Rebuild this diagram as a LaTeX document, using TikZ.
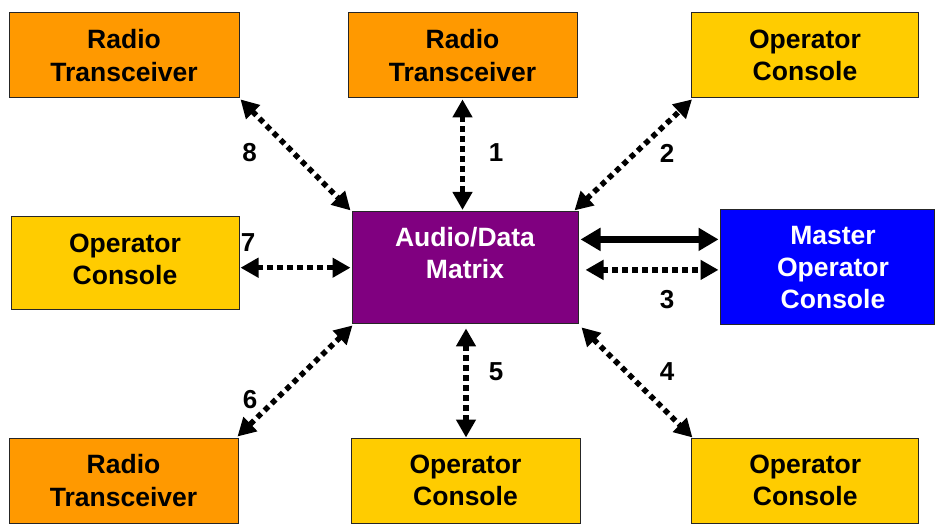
\documentclass[tikz,border=0pt]{standalone}
\usepackage{fontspec}
\setmainfont{Liberation Sans}
\usetikzlibrary{arrows.meta}
\definecolor{radioorange}{HTML}{FF9900}
\definecolor{consoleyellow}{HTML}{FFCC00}
\definecolor{matrixpurple}{HTML}{800080}
\definecolor{masterblue}{HTML}{0000FF}
\tikzset{
  box/.style={draw=black!85, line width=1pt, inner sep=0pt, align=center,
    font=\fontsize{26.5}{32.5}\selectfont\bfseries},
  radiobox/.style={box, fill=radioorange},
  consolebox/.style={box, fill=consoleyellow},
  boxtext/.style={inner sep=0pt, align=center, font=\fontsize{26.5}{32}\selectfont\bfseries},
  numlabel/.style={inner sep=0pt, font=\fontsize{26}{30}\selectfont\bfseries},
  dotlink/.style={line width=5.5pt, dash pattern=on 5.5pt off 4.5pt,
    {Triangle[length=18pt,width=19pt]}-{Triangle[length=18pt,width=19pt]}},
  solidlink/.style={line width=7.5pt,
    {Triangle[length=20pt,width=22pt]}-{Triangle[length=20pt,width=22pt]}},
}
\begin{document}
\begin{tikzpicture}[x=1pt,y=-1pt]
\useasboundingbox (0,0) rectangle (936,525);
% boxes
\node[radiobox, minimum width=230pt, minimum height=85pt] (rt1) at (124,55.4) {Radio\\Transceiver};
\node[radiobox, minimum width=229pt, minimum height=85pt] (rt2) at (462.5,55.4) {Radio\\Transceiver};
\node[consolebox, minimum width=227pt, minimum height=85pt] (oc1) at (805,55.4) {Operator\\Console};
\node[consolebox, minimum width=228pt, minimum height=93pt] (lc) at (125,262.7) {};
\node[boxtext] (lct) at (125,259) {Operator\\Console};
\node[box, fill=matrixpurple, minimum width=226pt, minimum height=112pt] (mat) at (465,267.9) {};
\node[boxtext, text=white] (matt) at (465,253.5) {Audio/Data\\Matrix};
\node[box, fill=masterblue, minimum width=214pt, minimum height=114.5pt] (mas) at (827,266.8) {};
\node[boxtext, text=white] (mast) at (833,267.5) {Master\\Operator\\Console};
\node[radiobox, minimum width=229pt, minimum height=85pt] (rb) at (123.5,480.5) {Radio\\Transceiver};
\node[consolebox, minimum width=229pt, minimum height=85pt] (bc) at (465.5,480.5) {Operator\\Console};
\node[consolebox, minimum width=226.5pt, minimum height=85pt] (br) at (805.2,480.5) {Operator\\Console};
% connectors
\draw[dotlink] ([shift={(0pt,-1pt)}]rt2.south) -- ([shift={(0pt,1.5pt)}]rt2.south |- mat.north);
\draw[dotlink] ([shift={(1pt,-1pt)}]rt1.south east) -- ([shift={(-1pt,1pt)}]mat.north west);
\draw[dotlink] ([shift={(-4pt,1pt)}]mat.north east) -- ([shift={(1pt,-1pt)}]oc1.south west);
\draw[dotlink] ([shift={(1pt,-5pt)}]lc.east) -- ([shift={(-1pt,-5pt)}]lc.east -| mat.west);
\draw[solidlink] ([shift={(2pt,28.5pt)}]mat.east) -- ([shift={(-1pt,28.5pt)}]mat.east -| mas.west);
\draw[dotlink] ([shift={(7pt,-2pt)}]mat.east) -- ([shift={(-1pt,-2pt)}]mat.east -| mas.west);
\draw[dotlink] ([shift={(3pt,-3pt)}]mat.south east) -- ([shift={(1pt,0pt)}]br.north west);
\draw[dotlink] ([shift={(1pt,-4pt)}]mat.south) -- ([shift={(1pt,0pt)}]mat.south |- bc.north);
\draw[dotlink] ([shift={(1pt,-1pt)}]mat.south west) -- ([shift={(-1pt,1pt)}]rb.north east);
% labels
\node[numlabel] (l1) at (496,153) {1};
\node[numlabel] (l2) at (667,153) {2};
\node[numlabel] (l3) at (667,300) {3};
\node[numlabel] (l4) at (667,372) {4};
\node[numlabel] (l5) at (496,372) {5};
\node[numlabel] (l6) at (250,400) {6};
\node[numlabel] (l7) at (248,243) {7};
\node[numlabel] (l8) at (249.5,153) {8};
\end{tikzpicture}
\end{document}
